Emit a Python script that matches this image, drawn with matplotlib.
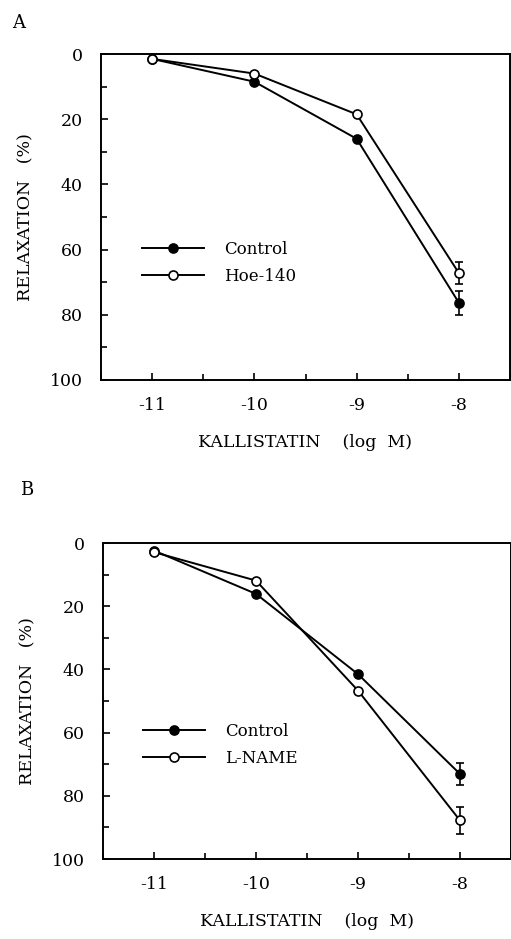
import matplotlib
matplotlib.use("Agg")
import matplotlib.pyplot as plt
from matplotlib.lines import Line2D
from matplotlib.ticker import MultipleLocator

plt.rcParams['font.family'] = ['DejaVu Serif']

conc = [-11, -10, -9, -8]

# panel A
a_control = [1.5, 8.5, 26, 76.3]
a_control_err = [0, 0, 0, 3.7]
a_hoe = [1.5, 6, 18.5, 67.2]
a_hoe_err = [0, 0, 0, 3.5]

# panel B
b_control = [2.4, 16.1, 41.5, 73.1]
b_control_err = [0, 0, 0, 3.5]
b_lname = [2.9, 11.9, 46.7, 87.8]
b_lname_err = [0, 0, 0, 4.2]

yticks = [0, 20, 40, 60, 80, 100]
xticks = [-11, -10, -9, -8]

W, H = 511, 939
fig = plt.figure(figsize=(W / 100, H / 100), dpi=100)


def panel(px, letter, letter_xy, series, leg_anchor):
    l, t, r, b = px
    ax = fig.add_axes([l / W, 1 - b / H, (r - l) / W, (b - t) / H])
    handles = []
    for y, err, face, lab in series:
        ax.errorbar(conc, y, yerr=err, color='black', lw=1.4, marker='o',
                    ms=6.5, mfc=face, mec='black', mew=1.2, capsize=3,
                    elinewidth=1.2, capthick=1.2)
        handles.append(Line2D([], [], color='black', lw=1.4, marker='o', ms=6.5,
                              mfc=face, mec='black', mew=1.2, label=lab))
    ax.set_xlim(-11.5, -7.5)
    ax.set_ylim(100, 0)
    ax.set_xticks(xticks)
    ax.set_xticklabels([str(v) for v in xticks])
    ax.set_yticks(yticks)
    ax.xaxis.set_minor_locator(MultipleLocator(0.5))
    ax.yaxis.set_minor_locator(MultipleLocator(10))
    ax.tick_params(which='both', direction='in', width=1.2, labelsize=12.5)
    ax.tick_params(which='major', length=5)
    ax.tick_params(which='minor', length=4)
    ax.tick_params(axis='x', pad=12)
    ax.tick_params(axis='y', pad=13)
    for s in ax.spines.values():
        s.set_linewidth(1.4)
    ax.set_ylabel('RELAXATION   (%)', fontsize=12.5, labelpad=11)
    ax.set_xlabel('KALLISTATIN    (log  M)', fontsize=12.5, labelpad=15)
    ax.legend(handles=handles, loc='center left', bbox_to_anchor=leg_anchor,
              frameon=False, fontsize=12, handlelength=3.75, borderpad=0,
              borderaxespad=0, handletextpad=1.2, labelspacing=0.6)
    fig.text(letter_xy[0] / W, 1 - letter_xy[1] / H, letter, fontsize=13,
             ha='left', va='center')
    return ax


panel((101, 54, 510, 380), 'A', (12, 23),
      [(a_control, a_control_err, 'black', 'Control'),
       (a_hoe, a_hoe_err, 'white', 'Hoe-140')], (0.10, 0.359))
panel((103, 543, 511, 859), 'B', (20, 490),
      [(b_control, b_control_err, 'black', 'Control'),
       (b_lname, b_lname_err, 'white', 'L-NAME')], (0.098, 0.36))

fig.savefig('out.png', dpi=100)
